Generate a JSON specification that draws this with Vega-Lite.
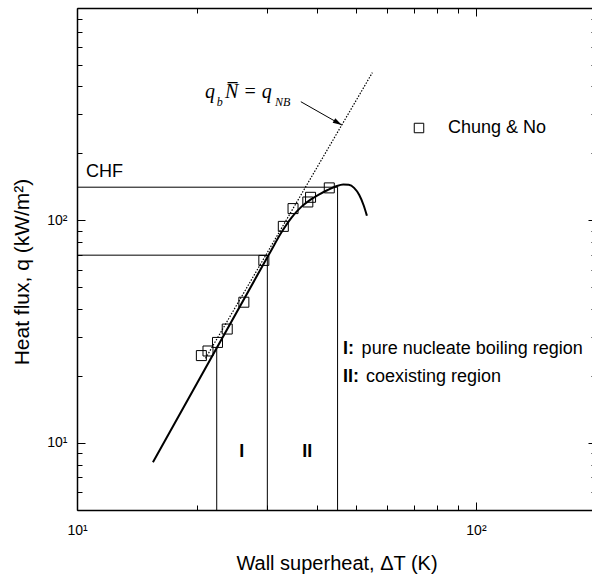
{
  "$schema": "https://vega.github.io/schema/vega-lite/v6.json",
  "autosize": {"type": "none"},
  "padding": {"left": 77, "top": 8, "right": 0, "bottom": 67},
  "width": 515,
  "height": 502,
  "background": "white",
  "config": {"view": {"stroke": null}, "font": "Liberation Sans"},
  "resolve": {"axis": {"x": "independent", "y": "independent"}},
  "layer": [
    {
      "data": {"values": [
        {"x1": 10, "x2": 45, "y1": 141, "y2": 141},
        {"x1": 10, "x2": 30, "y1": 69.8, "y2": 69.8},
        {"x1": 22.4, "x2": 22.4, "y1": 5, "y2": 26.9},
        {"x1": 30, "x2": 30, "y1": 5, "y2": 69.8},
        {"x1": 45, "x2": 45, "y1": 5, "y2": 141}
      ]},
      "mark": {"type": "rule", "color": "black", "strokeWidth": 1},
      "encoding": {
        "x": {"field": "x1", "type": "quantitative", "scale": {"type": "log", "domain": [10, 200], "range": [0, 519], "nice": false}, "axis": null},
        "x2": {"field": "x2"},
        "y": {"field": "y1", "type": "quantitative", "scale": {"type": "log", "domain": [5, 900], "nice": false}, "axis": null},
        "y2": {"field": "y2"}
      }
    },
    {
      "data": {"values": [{"t": 21, "q": 24}, {"t": 55, "q": 461}]},
      "mark": {"type": "line", "color": "black", "strokeWidth": 1.2, "strokeDash": [1.5, 1.5]},
      "encoding": {
        "x": {"field": "t", "type": "quantitative", "scale": {"type": "log", "domain": [10, 200], "range": [0, 519], "nice": false}, "axis": null},
        "y": {"field": "q", "type": "quantitative", "scale": {"type": "log", "domain": [5, 900], "nice": false}, "axis": null}
      }
    },
    {
      "data": {"values": [
        {"t": 15.5, "q": 8.2}, {"t": 30.5, "q": 72}, {"t": 32.5, "q": 88}, {"t": 34.5, "q": 103},
        {"t": 36.5, "q": 115}, {"t": 38.5, "q": 124}, {"t": 40.5, "q": 131}, {"t": 42.5, "q": 137},
        {"t": 44.5, "q": 142}, {"t": 46.5, "q": 145}, {"t": 48, "q": 144.5}, {"t": 49.5, "q": 140},
        {"t": 51, "q": 130}, {"t": 52.3, "q": 117}, {"t": 53.3, "q": 105}
      ]},
      "mark": {"type": "line", "color": "black", "strokeWidth": 2, "interpolate": "monotone"},
      "encoding": {
        "x": {"field": "t", "type": "quantitative", "scale": {"type": "log", "domain": [10, 200], "range": [0, 519], "nice": false},
          "axis": {"orient": "top", "values": [10, 20, 30, 40, 50, 60, 70, 80, 90, 100, 200], "labels": false, "title": null, "grid": false,
            "tickSize": {"expr": "datum.value == 10 || datum.value == 100 ? -8 : -5"}, "tickColor": "black", "tickWidth": 1,
            "domainColor": "black", "domainWidth": 1.5}},
        "y": {"field": "q", "type": "quantitative", "scale": {"type": "log", "domain": [5, 900], "nice": false},
          "axis": {"orient": "right", "offset": 4, "values": [5, 6, 7, 8, 9, 10, 20, 30, 40, 50, 60, 70, 80, 90, 100, 200, 300, 400, 500, 600, 700, 800, 900], "labels": false, "title": null, "grid": false,
            "tickSize": {"expr": "datum.value == 10 || datum.value == 100 ? -8 : -5"}, "tickColor": "black", "tickWidth": 1,
            "domainColor": "black", "domainWidth": 1.5}}
      }
    },
    {
      "data": {"values": [{"t": 36.4, "q": 341.4}, {"t": 46.1, "q": 268.3}]},
      "mark": {"type": "line", "color": "black", "strokeWidth": 1},
      "encoding": {
        "x": {"field": "t", "type": "quantitative", "axis": null},
        "y": {"field": "q", "type": "quantitative", "axis": null}
      }
    },
    {
      "data": {"values": [{"t": 46.1, "q": 268.3}]},
      "mark": {"type": "point", "shape": "M0,0L-1,-0.3L-1,0.3Z", "size": 324, "angle": 30, "filled": true, "color": "black", "opacity": 1},
      "encoding": {
        "x": {"field": "t", "type": "quantitative", "axis": null},
        "y": {"field": "q", "type": "quantitative", "axis": null}
      }
    },
    {
      "data": {"values": [
        {"t": 20.5, "q": 24.7, "series": "Chung & No"},
        {"t": 21.3, "q": 25.9, "series": "Chung & No"},
        {"t": 22.5, "q": 28.3, "series": "Chung & No"},
        {"t": 23.8, "q": 32.5, "series": "Chung & No"},
        {"t": 26.2, "q": 42.9, "series": "Chung & No"},
        {"t": 29.4, "q": 66.1, "series": "Chung & No"},
        {"t": 32.9, "q": 94, "series": "Chung & No"},
        {"t": 34.8, "q": 113, "series": "Chung & No"},
        {"t": 37.9, "q": 121, "series": "Chung & No"},
        {"t": 38.5, "q": 127, "series": "Chung & No"},
        {"t": 42.9, "q": 140, "series": "Chung & No"}
      ]},
      "mark": {"type": "point", "filled": false, "color": "black", "size": 100, "strokeWidth": 1, "opacity": 1},
      "encoding": {
        "x": {"field": "t", "type": "quantitative", "scale": {"type": "log", "domain": [10, 200], "range": [0, 519], "nice": false},
          "axis": {"orient": "bottom", "values": [10, 20, 30, 40, 50, 60, 70, 80, 90, 100, 200],
            "labelExpr": "datum.value == 10 ? '10¹' : datum.value == 100 ? '10²' : ''",
            "tickSize": {"expr": "datum.value == 10 || datum.value == 100 ? -8 : -5"}, "tickColor": "black", "tickWidth": 1,
            "domainColor": "black", "domainWidth": 1.5, "grid": false,
            "labelFont": "Liberation Sans", "labelFontSize": 14, "labelColor": "black", "labelPadding": 21, "labelFlush": false, "labelOverlap": false,
            "title": "Wall superheat, ΔT (K)", "titleFont": "Liberation Sans", "titleFontSize": 20, "titleFontWeight": "normal", "titleColor": "black",
            "titlePadding": 13, "titleX": 259.5}},
        "y": {"field": "q", "type": "quantitative", "scale": {"type": "log", "domain": [5, 900], "nice": false},
          "axis": {"orient": "left", "values": [5, 6, 7, 8, 9, 10, 20, 30, 40, 50, 60, 70, 80, 90, 100, 200, 300, 400, 500, 600, 700, 800, 900],
            "labelExpr": "datum.value == 10 ? '10¹' : datum.value == 100 ? '10²' : ''",
            "tickSize": {"expr": "datum.value == 10 || datum.value == 100 ? -8 : -5"}, "tickColor": "black", "tickWidth": 1,
            "domainColor": "black", "domainWidth": 1.5, "grid": false,
            "labelFont": "Liberation Sans", "labelFontSize": 14, "labelColor": "black", "labelPadding": 18, "labelFlush": false, "labelOverlap": false,
            "title": "Heat flux, q (kW/m²)", "titleFont": "Liberation Sans", "titleFontSize": 21, "titleFontWeight": "normal", "titleColor": "black",
            "titlePadding": 14, "titleY": 263.5}},
        "shape": {"field": "series", "type": "nominal", "scale": {"range": ["square"]},
          "legend": {"title": null, "orient": "none", "legendX": 333, "legendY": 111, "padding": 0,
            "labelFont": "Liberation Sans", "labelFontSize": 18, "labelColor": "black", "labelOffset": 20,
            "symbolSize": 90, "symbolStrokeWidth": 1, "symbolStrokeColor": "black", "symbolFillColor": "transparent"}}
      }
    },
    {
      "data": {"values": [{"t": 10.53, "q": 156.7, "label": "CHF"}]},
      "mark": {"type": "text", "align": "left", "baseline": "alphabetic", "font": "Liberation Sans", "fontSize": 18, "color": "black"},
      "encoding": {
        "x": {"field": "t", "type": "quantitative", "axis": null},
        "y": {"field": "q", "type": "quantitative", "axis": null},
        "text": {"field": "label"}
      }
    },
    {
      "data": {"values": [{"t": 25.9, "q": 9.07, "label": "I"}, {"t": 37.8, "q": 9.07, "label": "II"}]},
      "mark": {"type": "text", "align": "center", "baseline": "middle", "font": "Liberation Sans", "fontSize": 18, "fontWeight": "bold", "color": "black"},
      "encoding": {
        "x": {"field": "t", "type": "quantitative", "axis": null},
        "y": {"field": "q", "type": "quantitative", "axis": null},
        "text": {"field": "label"}
      }
    },
    {
      "data": {"values": [{"t": 46.4, "q": 25.0, "label": "I:"}, {"t": 46.4, "q": 18.86, "label": "II:"}]},
      "mark": {"type": "text", "align": "left", "baseline": "alphabetic", "font": "Liberation Sans", "fontSize": 18, "fontWeight": "bold", "color": "black"},
      "encoding": {
        "x": {"field": "t", "type": "quantitative", "axis": null},
        "y": {"field": "q", "type": "quantitative", "axis": null},
        "text": {"field": "label"}
      }
    },
    {
      "data": {"values": [{"t": 51.7, "q": 25.0, "label": "pure nucleate boiling region"}, {"t": 53.0, "q": 18.86, "label": "coexisting region"}]},
      "mark": {"type": "text", "align": "left", "baseline": "alphabetic", "font": "Liberation Sans", "fontSize": 18, "color": "black"},
      "encoding": {
        "x": {"field": "t", "type": "quantitative", "axis": null},
        "y": {"field": "q", "type": "quantitative", "axis": null},
        "text": {"field": "label"}
      }
    },
    {
      "data": {"values": [{"t": 20.93, "q": 353.6, "label": "q"}, {"t": 23.49, "q": 353.6, "label": "N\u0305 = q"}]},
      "mark": {"type": "text", "align": "left", "baseline": "alphabetic", "font": "Liberation Serif", "fontStyle": "italic", "fontSize": 20, "color": "black"},
      "encoding": {
        "x": {"field": "t", "type": "quantitative", "axis": null},
        "y": {"field": "q", "type": "quantitative", "axis": null},
        "text": {"field": "label"}
      }
    },
    {
      "data": {"values": [{"t": 22.39, "q": 326.5, "label": "b"}, {"t": 31.35, "q": 326.5, "label": "NB"}]},
      "mark": {"type": "text", "align": "left", "baseline": "alphabetic", "font": "Liberation Serif", "fontStyle": "italic", "fontSize": 12, "color": "black"},
      "encoding": {
        "x": {"field": "t", "type": "quantitative", "axis": null},
        "y": {"field": "q", "type": "quantitative", "axis": null},
        "text": {"field": "label"}
      }
    }
  ]
}
